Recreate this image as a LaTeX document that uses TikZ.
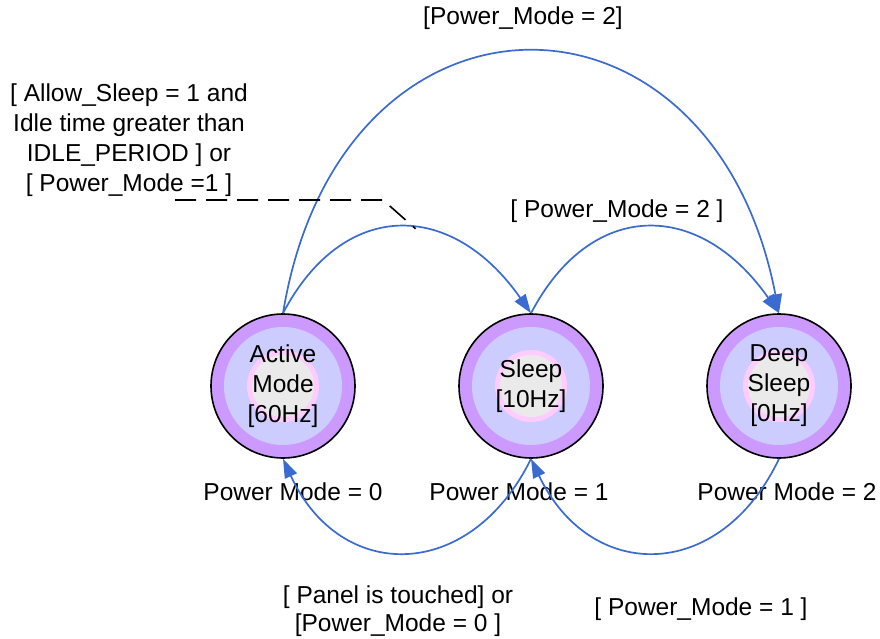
\documentclass[tikz,border=0pt]{standalone}
\usepackage{fontspec}
\setmainfont{Liberation Sans}
\usetikzlibrary{arrows.meta}
\definecolor{arcblue}{HTML}{3A6BD0}
\definecolor{ringpurple}{HTML}{CC99FF}
\definecolor{ringlav}{HTML}{CCCCFF}
\definecolor{ringpink}{HTML}{FFCCFF}
\definecolor{corefill}{HTML}{EAEAEA}
\begin{document}
\begin{tikzpicture}[x=1pt,y=-1pt,
  every node/.style={font=\fontsize{24.5}{30}\selectfont, inner sep=0pt},
  state/.style={circle, draw=black, line width=1.6pt, fill=ringpurple,
    minimum size=144pt, align=center,
    path picture={
      \fill[ringlav] (path picture bounding box.center) circle (59pt);
      \fill[ringpink] (path picture bounding box.center) circle (36pt);
      \fill[corefill] (path picture bounding box.center) circle (31pt);
    }},
  conn/.style={draw=arcblue, line width=1.7pt, -{Triangle[length=19pt,width=13pt]}},
  lbl/.style={align=center},
  dashline/.style={draw=black, line width=1.6pt, dash pattern=on 21pt off 10pt}
]
\useasboundingbox (0,0) rectangle (880,639);

% states
\node[state] (A) at (283,386) {Active\\Mode\\{[60Hz]}};
\node[state] (S) at (531,386) {Sleep\\{[10Hz]}};
\node[state] (D) at (779,386) {Deep\\Sleep\\{[0Hz]}};

% labels
\node[lbl] (ltop) at (523,18) {[Power\_Mode = 2]};
\node[lbl] (lsleep) at (129,140) {[ Allow\_Sleep = 1 and\\Idle time greater than\\IDLE\_PERIOD ] or\\{[ Power\_Mode =1 ]}};
\node[lbl] (ldeep) at (617,211) {[ Power\_Mode = 2 ]};
\node[lbl] (pm0) at (293,492) {Power Mode = 0};
\node[lbl] (pm1) at (519,492) {Power Mode = 1};
\node[lbl] (pm2) at (787,492) {Power Mode = 2};
\node[lbl, font=\fontsize{24.5}{28}\selectfont] (lwake) at (398,611) {[ Panel is touched] or\\{[Power\_Mode = 0 ]}};
\node[lbl] (lback) at (701,609) {[ Power\_Mode = 1 ]};

% transitions
\draw[conn] (A.north) .. controls (340,-35) and (712,-35) .. (D.north);
\draw[conn] (A.north) .. controls (343,199) and (451,199) .. (S.north)
  coordinate[pos=0.56] (dend);
\draw[conn] (S.north) .. controls (591,199) and (699,199) .. (D.north);
\draw[conn] (S.south) .. controls (470,583) and (340,583) .. (A.south);
\draw[conn] (D.south) .. controls (720,583) and (590,583) .. (S.south);

% dashed pointer from label to transition
\coordinate (d0) at (175,200);
\coordinate (d1) at (383,200);
\draw[dashline] (d0) -- (d1) -- (dend);
\end{tikzpicture}
\end{document}
